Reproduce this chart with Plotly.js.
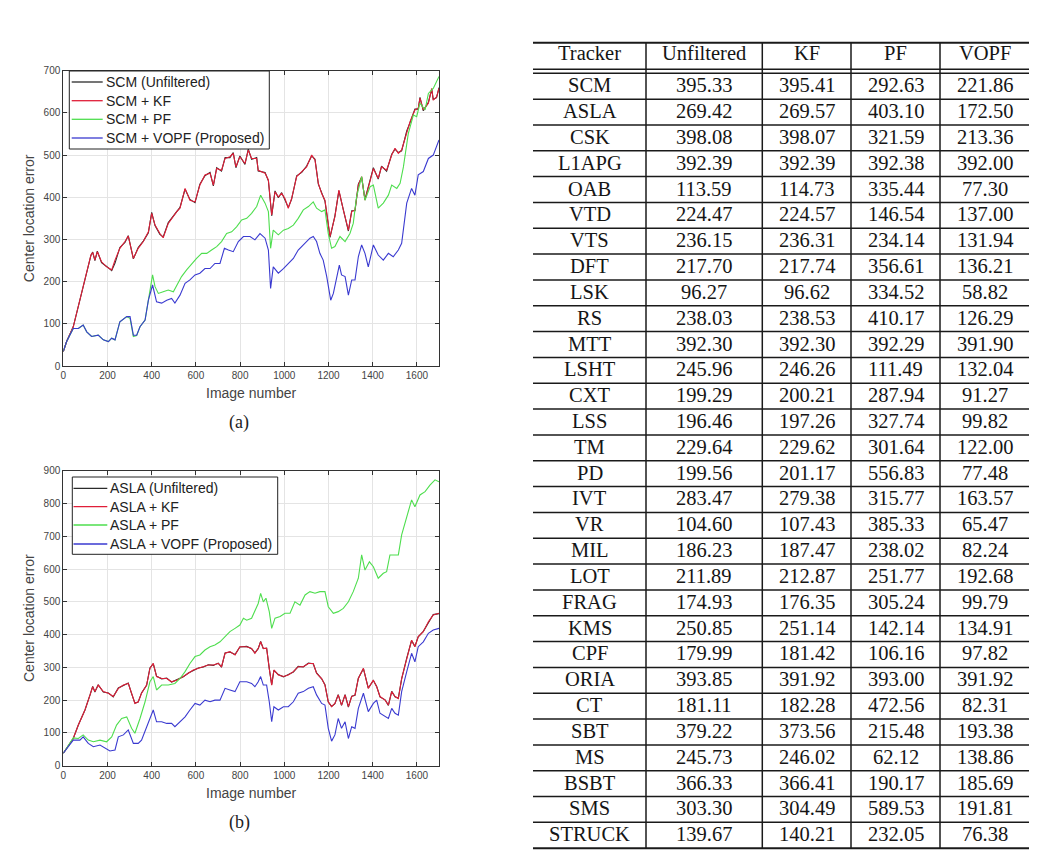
<!DOCTYPE html>
<html>
<head>
<meta charset="utf-8">
<script src="https://cdn.plot.ly/plotly-3.0.1.min.js"></script>
<style>
html,body{margin:0;padding:0;background:#fff;}
#chart{width:1060px;height:857px;}
</style>
</head>
<body>
<div id="chart"></div>
<script>
// ---------------- Plot (a): SCM ----------------
const aUnfFrames = [0,15,45,125,133,143,154,173,196,219,234,256,279,294,317,339,362,385,400,415,437,452,475,513,528,551,573,596,618,641,664,679,694,716,732,754,769,781,799,822,837,852,875,882,913,928,943,958,973,988,1003,1018,1033,1056,1079,1101,1124,1139,1154,1169,1184,1207,1229,1247,1267,1290,1305,1320,1335,1350,1365,1388,1403,1425,1440,1463,1486,1501,1516,1531,1554,1569,1591,1606,1614,1629,1652,1667,1674,1689,1700];
const aUnf = [34,58,93,262,270,250,272,245,236,226,244,281,293,309,254,281,296,316,364,333,312,306,340,364,376,419,395,387,431,451,459,427,470,462,494,494,506,470,498,478,514,490,494,462,459,439,356,415,399,411,395,376,395,451,459,474,498,490,431,411,391,305,356,415,372,320,368,368,431,447,395,439,470,443,474,462,502,514,506,510,557,577,609,609,637,605,625,656,632,636,660];
const aKfFrames = aUnfFrames;
const aKf = [34,58,93,263,269,251,271,247,235,228,251,279,295,308,255,279,295,318,362,334,314,304,338,366,374,421,393,389,429,453,457,429,468,464,492,496,504,472,496,480,512,492,492,464,457,441,358,413,401,409,397,374,397,449,461,472,500,488,433,409,393,307,354,417,370,322,366,370,429,449,393,441,468,445,472,464,500,516,504,512,555,579,607,611,635,607,623,658,630,638,658];
const aPfFrames = [0,15,45,68,90,106,128,158,181,204,219,234,256,287,302,317,332,347,370,385,404,415,430,452,475,498,513,535,558,581,603,626,649,671,694,716,739,762,784,807,830,852,875,893,913,928,938,950,973,996,1018,1041,1063,1086,1109,1131,1146,1169,1184,1199,1214,1229,1252,1275,1297,1312,1327,1350,1365,1388,1403,1425,1448,1471,1486,1509,1524,1539,1561,1584,1599,1614,1637,1652,1674,1700];
const aPf = [35,58,89,89,97,81,70,73,62,58,66,62,105,117,113,70,72,93,109,156,216,188,172,176,180,176,192,212,228,243,255,267,267,275,283,295,314,318,330,346,350,362,378,405,386,366,279,322,311,322,326,334,350,370,378,389,374,366,370,314,279,283,307,295,314,338,401,449,393,425,429,374,386,405,429,421,433,472,551,595,591,623,607,646,658,686];
const aVopfFrames = [0,15,45,68,90,106,128,158,181,204,219,234,256,287,302,317,332,347,370,385,404,422,445,468,490,505,528,551,573,596,618,641,664,686,709,729,747,769,792,815,845,867,890,913,928,938,950,973,996,1018,1041,1063,1086,1116,1131,1146,1161,1176,1192,1210,1222,1237,1249,1259,1275,1290,1305,1320,1335,1350,1365,1380,1403,1425,1448,1471,1493,1516,1531,1554,1576,1591,1606,1629,1652,1674,1700];
const aVopf = [35,58,89,89,97,81,70,73,62,58,66,62,105,117,117,73,73,93,109,156,192,152,149,156,160,149,168,196,204,216,220,231,231,243,243,279,275,271,295,307,307,299,314,303,275,184,235,220,231,243,255,275,287,303,307,295,267,251,212,156,172,212,239,216,212,168,204,204,259,287,267,235,287,263,251,267,259,275,291,386,421,405,453,461,492,500,536];

// ---------------- Plot (b): ASLA ----------------
const bUnfFrames = [0,30,45,68,98,121,133,143,158,181,204,226,249,272,294,309,324,339,354,377,392,407,422,445,468,490,513,543,566,588,611,634,656,679,701,716,732,754,777,799,830,852,867,882,893,905,920,932,943,953,973,996,1018,1041,1063,1086,1109,1131,1146,1169,1184,1199,1214,1229,1244,1259,1275,1290,1305,1320,1335,1358,1380,1403,1418,1433,1456,1471,1486,1501,1516,1531,1554,1576,1591,1606,1629,1652,1674,1700];
const bUnf = [38,68,83,124,170,216,242,225,247,225,222,210,237,245,252,220,191,194,222,245,298,311,273,265,267,255,262,271,283,291,298,301,308,306,313,301,344,347,339,362,364,357,344,357,379,357,359,296,247,291,278,271,278,286,303,301,313,311,283,265,247,194,181,189,217,184,217,179,212,215,267,296,237,260,242,210,201,184,227,210,206,265,328,382,364,393,410,438,461,464];
const bKfFrames = bUnfFrames;
const bKf = [38,68,83,124,170,216,241,226,246,226,221,211,236,246,251,221,190,195,221,246,297,312,272,266,266,256,261,272,282,292,297,302,307,307,312,302,343,348,338,363,363,358,343,358,378,358,358,297,246,292,277,272,277,287,302,302,312,312,282,266,246,195,180,190,216,185,216,180,211,216,266,297,236,261,241,211,200,185,226,211,205,266,327,383,363,394,409,439,460,465];
const bPfFrames = [0,30,45,68,90,113,136,166,196,219,241,264,287,309,324,347,370,392,407,422,445,475,505,528,551,573,596,618,641,664,686,709,732,754,777,799,815,830,852,867,882,893,905,917,932,943,958,981,1003,1026,1048,1071,1094,1116,1139,1161,1184,1199,1222,1244,1267,1290,1312,1335,1350,1365,1385,1403,1425,1448,1463,1478,1501,1516,1531,1554,1576,1591,1614,1637,1659,1682,1700];
const bPf = [38,68,85,83,94,78,73,78,73,88,124,144,149,114,99,144,195,256,272,231,246,246,251,266,287,312,333,338,353,363,368,378,394,409,419,429,450,444,450,475,495,526,500,511,470,419,450,455,465,465,500,490,521,531,526,531,531,485,465,470,480,500,531,572,643,597,622,607,572,587,592,643,643,643,704,755,811,790,826,836,856,872,866];
const bVopfFrames = [0,30,45,75,90,113,136,166,189,211,234,249,272,294,317,339,354,370,392,407,422,445,468,490,505,528,551,573,596,618,641,664,686,709,732,754,777,799,830,852,867,882,893,905,920,932,943,953,973,996,1018,1041,1063,1086,1109,1131,1146,1169,1184,1199,1214,1229,1244,1259,1275,1290,1305,1320,1335,1358,1380,1403,1418,1433,1456,1471,1486,1501,1516,1531,1554,1576,1591,1606,1629,1652,1674,1700];
const bVopf = [38,63,78,78,88,68,58,63,53,45,48,88,94,109,68,68,78,104,144,170,134,134,129,129,119,134,149,170,190,185,200,195,200,200,236,231,226,256,256,251,241,256,272,246,246,195,134,180,170,180,180,195,221,226,236,241,216,190,185,114,75,94,144,114,134,83,119,114,175,221,165,190,200,160,149,144,175,160,154,226,287,343,317,363,378,404,414,419];

const aNames = ['SCM (Unfiltered)','SCM + KF','SCM + PF','SCM + VOPF (Proposed)'];
const bNames = ['ASLA (Unfiltered)','ASLA + KF','ASLA + PF','ASLA + VOPF (Proposed)'];
const xTitle = 'Image number';
const yTitle = 'Center location error';
const captions = ['(a)','(b)'];

// ---------------- Table ----------------
const tableHeader = ['Tracker','Unfiltered','KF','PF','VOPF'];
const trackers = ['SCM','ASLA','CSK','L1APG','OAB','VTD','VTS','DFT','LSK','RS','MTT','LSHT','CXT','LSS','TM','PD','IVT','VR','MIL','LOT','FRAG','KMS','CPF','ORIA','CT','SBT','MS','BSBT','SMS','STRUCK'];
const unfiltered = ['395.33','269.42','398.08','392.39','113.59','224.47','236.15','217.70','96.27','238.03','392.30','245.96','199.29','196.46','229.64','199.56','283.47','104.60','186.23','211.89','174.93','250.85','179.99','393.85','181.11','379.22','245.73','366.33','303.30','139.67'];
const kf = ['395.41','269.57','398.07','392.39','114.73','224.57','236.31','217.74','96.62','238.53','392.30','246.26','200.21','197.26','229.62','201.17','279.38','107.43','187.47','212.87','176.35','251.14','181.42','391.92','182.28','373.56','246.02','366.41','304.49','140.21'];
const pf = ['292.63','403.10','321.59','392.38','335.44','146.54','234.14','356.61','334.52','410.17','392.29','111.49','287.94','327.74','301.64','556.83','315.77','385.33','238.02','251.77','305.24','142.14','106.16','393.00','472.56','215.48','62.12','190.17','589.53','232.05'];
const vopf = ['221.86','172.50','213.36','392.00','77.30','137.00','131.94','136.21','58.82','126.29','391.90','132.04','91.27','99.82','122.00','77.48','163.57','65.47','82.24','192.68','99.79','134.91','97.82','391.92','82.31','193.38','138.86','185.69','191.81','76.38'];

// ---------------- helpers (pixel -> paper) ----------------
const W = 1060, H = 857;
const px = x => x / W;
const py = y => 1 - y / H;

const colors = ['#2b2b2b', '#e01e38', '#4ede4e', '#3a3ad0'];
const sansFont = 'Liberation Sans, Arial, Helvetica, sans-serif';
const serifFont = 'Liberation Serif, Times New Roman, serif';

function mk(frames, vals, name, ci, xa, ya) {
  return {type:'scatter', mode:'lines', x:frames, y:vals, name:name, xaxis:xa, yaxis:ya,
          showlegend:false, line:{color:colors[ci], width:1.1}, hoverinfo:'skip'};
}

const traces = [
  mk(aUnfFrames, aUnf, aNames[0], 0, 'x', 'y'),
  mk(aKfFrames, aKf, aNames[1], 1, 'x', 'y'),
  mk(aPfFrames, aPf, aNames[2], 2, 'x', 'y'),
  mk(aVopfFrames, aVopf, aNames[3], 3, 'x', 'y'),
  mk(bUnfFrames, bUnf, bNames[0], 0, 'x2', 'y2'),
  mk(bKfFrames, bKf, bNames[1], 1, 'x2', 'y2'),
  mk(bPfFrames, bPf, bNames[2], 2, 'x2', 'y2'),
  mk(bVopfFrames, bVopf, bNames[3], 3, 'x2', 'y2')
];

function xAxis(anchor) {
  return {domain:[px(63.3), px(439)], anchor:anchor, range:[0,1700], dtick:200, tick0:0,
    showline:true, linecolor:'#333', linewidth:1, mirror:'ticks', ticks:'inside', ticklen:4, tickcolor:'#333',
    showgrid:true, gridcolor:'#e4e4e4', gridwidth:1, zeroline:false,
    tickfont:{size:10, color:'#444', family:sansFont},
    title:{text:xTitle, font:{size:14, color:'#444', family:sansFont}, standoff:8}, automargin:false};
}
function yAxis(anchor, top, bottom, maxv) {
  return {domain:[py(bottom), py(top)], anchor:anchor, range:[0,maxv], dtick:100, tick0:0,
    showline:true, linecolor:'#333', linewidth:1, mirror:'ticks', ticks:'inside', ticklen:4, tickcolor:'#333',
    showgrid:true, gridcolor:'#e4e4e4', gridwidth:1, zeroline:false,
    tickfont:{size:10, color:'#444', family:sansFont},
    title:{text:yTitle, font:{size:14, color:'#444', family:sansFont}, standoff:5}, automargin:false};
}

const shapes = [];
const annotations = [];

// ---------------- legends (drawn as box + samples + text) ----------------
function drawLegend(names, box, rowsY, lineX0, lineX1, textX) {
  shapes.push({type:'rect', xref:'paper', yref:'paper', x0:px(box[0]), x1:px(box[1]), y0:py(box[3]), y1:py(box[2]),
               line:{color:'#222', width:1}, fillcolor:'#ffffff', layer:'above'});
  names.forEach((n, i) => {
    shapes.push({type:'line', xref:'paper', yref:'paper', x0:px(lineX0), x1:px(lineX1), y0:py(rowsY[i]), y1:py(rowsY[i]),
                 line:{color:colors[i], width:1.3}, layer:'above'});
    annotations.push({xref:'paper', yref:'paper', x:px(textX), y:py(rowsY[i]), xanchor:'left', yanchor:'middle',
      text:n, showarrow:false, font:{family:sansFont, size:14, color:'#222'}});
  });
}
drawLegend(aNames, [69.3, 269.3, 71, 149], [82, 100.7, 119.3, 138], 71.7, 102.7, 104);
drawLegend(bNames, [72.3, 277.7, 477, 554.3], [488.3, 506.7, 525, 544], 73.5, 107.3, 107.5);

// ---------------- table geometry ----------------
const tLeft = 533, tRight = 1029;
const colEdges = [533, 646, 762.3, 851, 940, 1029];
const tTop = 42.7, dbl1 = 69.3, dbl2 = 73.3, rowH = 25.83;
const tBottom = dbl2 + rowH * trackers.length;

function hline(y, w) {
  shapes.push({type:'line', xref:'paper', yref:'paper', x0:px(tLeft), x1:px(tRight), y0:py(y), y1:py(y),
               line:{color:'#1a1a1a', width:w}});
}
hline(tTop, 2);
hline(dbl1, 1.5);
hline(dbl2, 1.5);
for (let k = 1; k <= trackers.length; k++) hline(dbl2 + rowH * k, k === trackers.length ? 2 : 1.5);
for (let c = 1; c < colEdges.length - 1; c++) {
  shapes.push({type:'line', xref:'paper', yref:'paper', x0:px(colEdges[c]), x1:px(colEdges[c]),
               y0:py(tTop), y1:py(tBottom), line:{color:'#1a1a1a', width:1.5}});
}
function cellText(txt, col, yc) {
  annotations.push({xref:'paper', yref:'paper', x:px((colEdges[col] + colEdges[col+1]) / 2), y:py(yc),
    xanchor:'center', yanchor:'middle', text:txt, showarrow:false,
    font:{family:serifFont, size:20.5, color:'#151515'}});
}
tableHeader.forEach((h, c) => cellText(h, c, 53.5));
const cols = [trackers, unfiltered, kf, pf, vopf];
for (let r = 0; r < trackers.length; r++) {
  const yc = dbl2 + rowH * (r + 0.5) - 1;
  cols.forEach((arr, c) => cellText(arr[r], c, yc));
}

// captions
annotations.push({xref:'paper', yref:'paper', x:px(239), y:py(422), xanchor:'center', yanchor:'middle',
  text:captions[0], showarrow:false, font:{family:serifFont, size:18, color:'#222'}});
annotations.push({xref:'paper', yref:'paper', x:px(239), y:py(822), xanchor:'center', yanchor:'middle',
  text:captions[1], showarrow:false, font:{family:serifFont, size:18, color:'#222'}});

const layout = {
  width:W, height:H, margin:{l:0, r:0, t:0, b:0},
  paper_bgcolor:'#ffffff', plot_bgcolor:'#ffffff',
  showlegend:false,
  xaxis:xAxis('y'),
  yaxis:yAxis('x', 70.7, 366, 700),
  xaxis2:xAxis('y2'),
  yaxis2:yAxis('x2', 470.7, 765.7, 900),
  shapes:shapes,
  annotations:annotations
};

Plotly.newPlot('chart', traces, layout, {staticPlot:true, displayModeBar:false});
</script>
</body>
</html>
